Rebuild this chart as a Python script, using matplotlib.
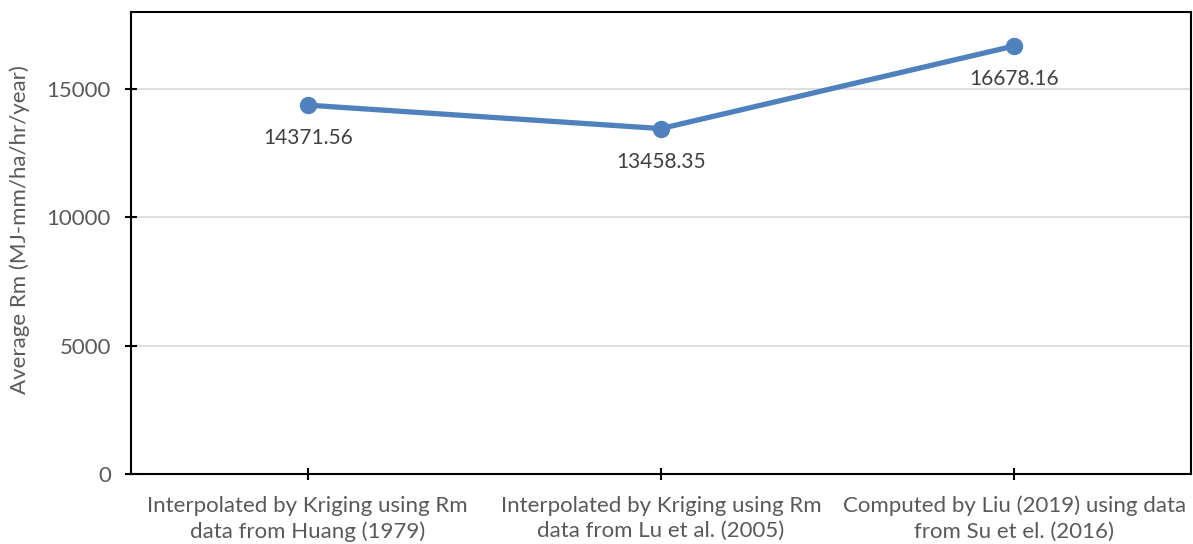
import numpy as np
import matplotlib.pyplot as plt

categories = [
    "Interpolated by Kriging using Rm\ndata from Huang (1979)",
    "Interpolated by Kriging using Rm\ndata from Lu et al. (2005)",
    "Computed by Liu (2019) using data\nfrom Su et el. (2016)",
]
avg_rm = [14371.56, 13458.35, 16678.16]
y_ticks = [0, 5000, 10000, 15000]

plt.rcParams["font.family"] = ["Lato", "DejaVu Sans"]
text_color = "#595959"
line_color = "#4F81BD"

fig = plt.figure(figsize=(11.93, 5.44), dpi=100)
ax = fig.add_axes([131 / 1193, 1 - 474 / 544, 1060 / 1193, 462 / 544])

x = np.arange(len(categories))
ax.plot(x, avg_rm, color=line_color, lw=3.8, marker="o", ms=11.5, zorder=3,
        solid_capstyle="round")

for xi, v in zip(x, avg_rm):
    ax.annotate(f"{v:.2f}", (xi, v), xytext=(0, -24), textcoords="offset points",
                ha="center", va="center", fontsize=15, color="#404040")

ax.set_xlim(-0.5, 2.5)
ax.set_ylim(0, 18000)
ax.set_xticks(x)
ax.set_xticklabels(categories, fontsize=16, color=text_color, linespacing=1.35)
ax.set_yticks(y_ticks)
ax.set_yticklabels([str(t) for t in y_ticks], fontsize=16, color=text_color)
ax.tick_params(axis="both", direction="inout", length=9, width=1.5, color="black")
ax.tick_params(axis="y", pad=10)
ax.tick_params(axis="x", pad=11)

ax.grid(True, axis="y", color="#D9D9D9", lw=1.2)
ax.set_axisbelow(True)
for s in ax.spines.values():
    s.set_linewidth(1.5)
    s.set_color("black")

ax.set_ylabel("Average Rm (MJ-mm/ha/hr/year)", fontsize=16, color=text_color)
ax.yaxis.set_label_coords(-0.095, 0.53)

fig.savefig("out.png", dpi=100)
